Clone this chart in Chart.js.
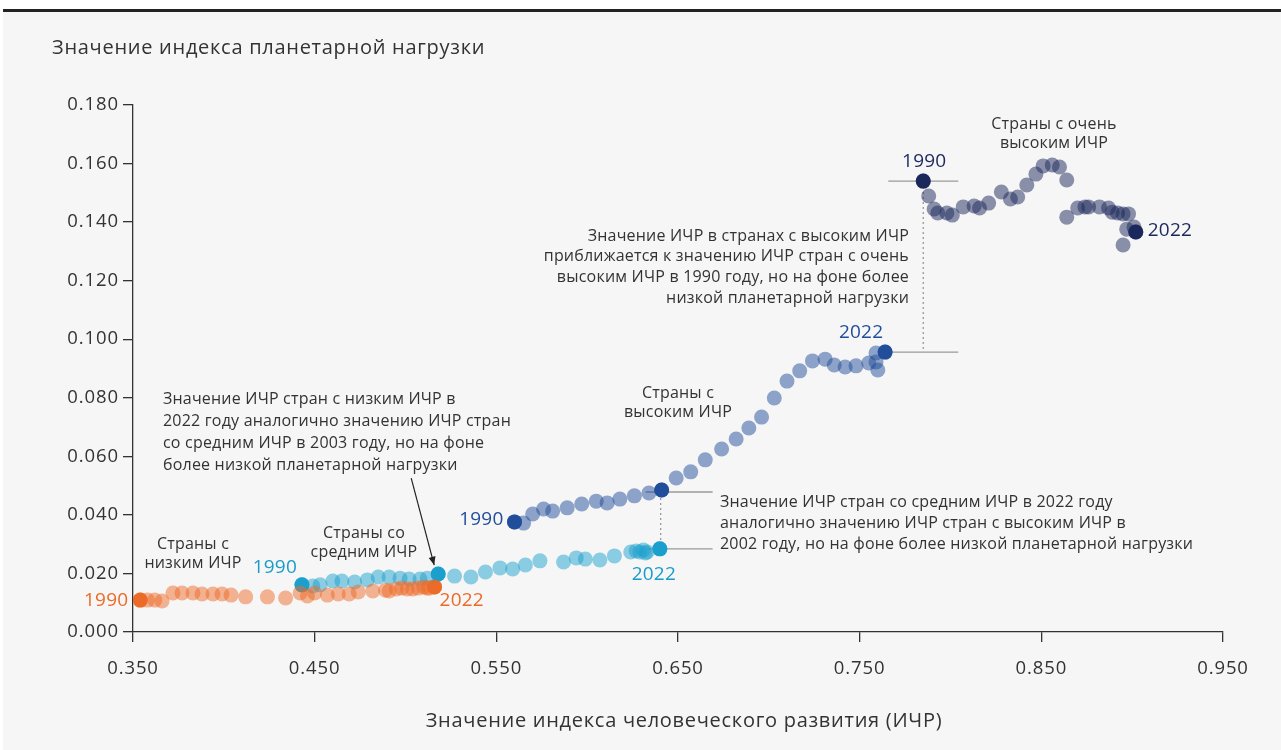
<!DOCTYPE html>
<html lang="ru">
<head>
<meta charset="utf-8">
<script src="https://cdn.jsdelivr.net/npm/chart.js@4.4.1/dist/chart.umd.min.js"></script>
<style>
  html, body { margin: 0; padding: 0; background: #ffffff; }
  #panel { position: absolute; left: 3px; top: 9px; width: 1278px; height: 741px; background: #f6f6f6; border-top: 3px solid #222; box-sizing: border-box; }
  #wrap { position: absolute; left: 0; top: 0; width: 1281px; height: 750px; }
</style>
</head>
<body>
<div id="panel"></div>
<div id="wrap"><canvas id="c" width="1281" height="750"></canvas></div>
<script>
// ---------- DATA ----------
const years = ["1990","1991","1992","1993","1994","1995","1996","1997","1998","1999","2000","2001","2002","2003","2004","2005","2006","2007","2008","2009","2010","2011","2012","2013","2014","2015","2016","2017","2018","2019","2020","2021","2022"];

const lowHdi = [0.354,0.358,0.362,0.366,0.372,0.377,0.383,0.388,0.394,0.399,0.404,0.412,0.424,0.434,0.442,0.446,0.450,0.457,0.463,0.469,0.474,0.482,0.489,0.491,0.495,0.498,0.501,0.504,0.507,0.510,0.512,0.513,0.516];
const lowPb  = [0.0109,0.0109,0.0109,0.0106,0.0133,0.0133,0.0133,0.0130,0.0130,0.0130,0.0126,0.0120,0.0120,0.0116,0.0133,0.0123,0.0133,0.0126,0.0130,0.0130,0.0137,0.0140,0.0143,0.0140,0.0147,0.0150,0.0147,0.0147,0.0150,0.0154,0.0150,0.0150,0.0154];

const medHdi = [0.443,0.449,0.453,0.460,0.465,0.472,0.479,0.485,0.491,0.497,0.502,0.508,0.512,0.518,0.527,0.536,0.544,0.552,0.559,0.566,0.574,0.587,0.594,0.599,0.607,0.615,0.624,0.627,0.629,0.631,0.632,0.633,0.640];
const medPb  = [0.0161,0.0157,0.0161,0.0174,0.0174,0.0171,0.0178,0.0188,0.0188,0.0184,0.0181,0.0181,0.0184,0.0198,0.0191,0.0188,0.0205,0.0219,0.0215,0.0229,0.0243,0.0239,0.0253,0.0249,0.0246,0.0260,0.0273,0.0277,0.0273,0.0280,0.0270,0.0273,0.0284];

const highHdi = [0.560,0.565,0.570,0.576,0.581,0.589,0.597,0.605,0.611,0.618,0.626,0.634,0.641,0.649,0.657,0.665,0.674,0.682,0.689,0.696,0.703,0.710,0.717,0.724,0.731,0.736,0.742,0.748,0.755,0.759,0.760,0.759,0.764];
const highPb  = [0.0376,0.0372,0.0403,0.0420,0.0413,0.0424,0.0437,0.0447,0.0441,0.0454,0.0465,0.0475,0.0485,0.0526,0.0547,0.0588,0.0625,0.0659,0.0697,0.0734,0.0799,0.0857,0.0892,0.0926,0.0932,0.0912,0.0905,0.0909,0.0919,0.0953,0.0895,0.0922,0.0956];

const vhighHdi = [0.785,0.788,0.791,0.793,0.798,0.801,0.807,0.813,0.816,0.821,0.828,0.833,0.837,0.842,0.847,0.851,0.856,0.860,0.864,0.864,0.870,0.874,0.876,0.882,0.887,0.889,0.892,0.895,0.898,0.897,0.901,0.895,0.902];
const vhighPb  = [0.1540,0.1489,0.1445,0.1431,0.1431,0.1424,0.1452,0.1455,0.1448,0.1465,0.1503,0.1479,0.1486,0.1527,0.1564,0.1592,0.1595,0.1588,0.1544,0.1417,0.1448,0.1452,0.1452,0.1452,0.1448,0.1434,0.1431,0.1428,0.1428,0.1376,0.1383,0.1322,0.1366];

const xTickValues = [0.35,0.45,0.55,0.65,0.75,0.85,0.95];
const yTickValues = [0,0.02,0.04,0.06,0.08,0.10,0.12,0.14,0.16,0.18];

const yAxisTitle = "Значение индекса планетарной нагрузки";
const xAxisTitle = "Значение индекса человеческого развития (ИЧР)";

const groupLabels = [
  ["Страны с","низким ИЧР"],
  ["Страны со","средним ИЧР"],
  ["Страны с","высоким ИЧР"],
  ["Страны с очень","высоким ИЧР"]
];
const noteLow = ["Значение ИЧР стран с низким ИЧР в","2022 году аналогично значению ИЧР стран","со средним ИЧР в 2003 году, но на фоне","более низкой планетарной нагрузки"];
const noteHigh = ["Значение ИЧР в странах с высоким ИЧР","приближается к значению ИЧР стран с очень","высоким ИЧР в 1990 году, но на фоне более","низкой планетарной нагрузки"];
const noteMed = ["Значение ИЧР стран со средним ИЧР в 2022 году","аналогично значению ИЧР стран с высоким ИЧР в","2002 году, но на фоне более низкой планетарной нагрузки"];

// ---------- STYLE ----------
const FONT = "'Open Sans', 'Noto Sans', sans-serif";
const TEXT = "#333333";
const C = {
  low:   {dark: "rgb(236,106,40)",  light: "rgba(238,108,42,0.5)"},
  med:   {dark: "rgb(24,156,202)",  light: "rgba(30,162,206,0.5)"},
  high:  {dark: "rgb(33,78,154)",   light: "rgba(33,78,154,0.5)"},
  vhigh: {dark: "rgb(27,40,92)",    light: "rgba(27,40,92,0.5)"}
};
const R = 7.5;

function pts(xs, ys) { return xs.map((x, i) => ({x: x, y: ys[i]})); }
function pick(xs, ys, idx) { return idx.map(i => ({x: xs[i], y: ys[i]})); }
const last = years.length - 1;
const i2002 = years.indexOf("2002"), i2003 = years.indexOf("2003");

const datasets = [
  {label: "low", data: pts(lowHdi, lowPb), backgroundColor: C.low.light},
  {label: "med", data: pts(medHdi, medPb), backgroundColor: C.med.light},
  {label: "high", data: pts(highHdi, highPb), backgroundColor: C.high.light},
  {label: "vhigh", data: pts(vhighHdi, vhighPb), backgroundColor: C.vhigh.light},
  {label: "lowKey", data: pick(lowHdi, lowPb, [0, last]), backgroundColor: C.low.dark},
  {label: "medKey", data: pick(medHdi, medPb, [0, i2003, last]), backgroundColor: C.med.dark},
  {label: "highKey", data: pick(highHdi, highPb, [0, i2002, last]), backgroundColor: C.high.dark},
  {label: "vhighKey", data: pick(vhighHdi, vhighPb, [0, last]), backgroundColor: C.vhigh.dark}
].map(d => Object.assign(d, {pointRadius: R, pointHoverRadius: R, borderWidth: 0, pointBorderWidth: 0}));

function P(chart, x, y) {
  return {x: chart.scales.x.getPixelForValue(x), y: chart.scales.y.getPixelForValue(y)};
}

const decor = {
  id: "decor",
  beforeDraw(chart) {
    chart.ctx.letterSpacing = "0.9px";
  },
  beforeDatasetsDraw(chart) {
    const ctx = chart.ctx;
    const vh90 = P(chart, vhighHdi[0], vhighPb[0]);
    const h22 = P(chart, highHdi[last], highPb[last]);
    const h02 = P(chart, highHdi[i2002], highPb[i2002]);
    const m22 = P(chart, medHdi[last], medPb[last]);
    ctx.save();
    ctx.strokeStyle = "#9a9a9a";
    ctx.lineWidth = 1.3;
    ctx.beginPath();
    ctx.moveTo(vh90.x - 35, vh90.y); ctx.lineTo(vh90.x + 35, vh90.y);
    ctx.moveTo(h22.x, h22.y); ctx.lineTo(vh90.x + 35, h22.y);
    ctx.moveTo(h02.x - 16, h02.y + 2); ctx.lineTo(h02.x + 51, h02.y + 2);
    ctx.moveTo(m22.x - 13, m22.y); ctx.lineTo(h02.x + 51, m22.y);
    ctx.stroke();
    ctx.setLineDash([2, 3]);
    ctx.beginPath();
    ctx.moveTo(vh90.x, vh90.y + 6); ctx.lineTo(vh90.x, h22.y);
    ctx.moveTo(h02.x - 1, h02.y + 8); ctx.lineTo(h02.x - 1, m22.y - 4);
    ctx.stroke();
    ctx.restore();
  },
  afterDatasetsDraw(chart) {
    const ctx = chart.ctx;
    ctx.save();
    ctx.textBaseline = "middle";
    // axis titles
    ctx.fillStyle = TEXT;
    ctx.font = "20px " + FONT;
    ctx.letterSpacing = "0.72px";
    ctx.textAlign = "left";
    ctx.fillText(yAxisTitle, 52, 48);
    ctx.textAlign = "center";
    ctx.fillText(xAxisTitle, 684, 721);

    // year labels
    ctx.font = "19px " + FONT;
    ctx.letterSpacing = "0.2px";
    function yl(txt, p, dx, dy, align, color) {
      ctx.fillStyle = color; ctx.textAlign = align; ctx.fillText(txt, p.x + dx, p.y + dy);
    }
    const l90 = P(chart, lowHdi[0], lowPb[0]), l22 = P(chart, lowHdi[last], lowPb[last]);
    const m90 = P(chart, medHdi[0], medPb[0]), m22 = P(chart, medHdi[last], medPb[last]);
    const m03 = P(chart, medHdi[i2003], medPb[i2003]);
    const h90 = P(chart, highHdi[0], highPb[0]), h22 = P(chart, highHdi[last], highPb[last]);
    const v90 = P(chart, vhighHdi[0], vhighPb[0]), v22 = P(chart, vhighHdi[last], vhighPb[last]);
    yl(years[0], l90, -12, 1, "right", C.low.dark);
    yl(years[last], l22, 5, 14, "left", C.low.dark);
    yl(years[0], m90, -5, -17, "right", C.med.dark);
    yl(years[last], m22, -6, 26, "center", C.med.dark);
    yl(years[0], h90, -11, -2, "right", C.high.dark);
    yl(years[last], h22, -24, -20, "center", C.high.dark);
    yl(years[0], v90, 1, -20, "center", C.vhigh.dark);
    yl(years[last], v22, 12, -1, "left", C.vhigh.dark);

    // group labels
    ctx.fillStyle = TEXT;
    ctx.font = "16px " + FONT;
    ctx.letterSpacing = "0.2px";
    ctx.textAlign = "center";
    const gpos = [[193, 544], [364, 533], [678, 393], [1054, 124]];
    groupLabels.forEach((lines, i) => {
      lines.forEach((t, j) => ctx.fillText(t, gpos[i][0], gpos[i][1] + j * 19.5));
    });

    // notes
    ctx.textAlign = "left";
    noteLow.forEach((t, j) => ctx.fillText(t, 163, 399 + j * 22));
    ctx.textAlign = "right";
    noteHigh.forEach((t, j) => ctx.fillText(t, 909, 236 + j * 20.7));
    ctx.textAlign = "left";
    noteMed.forEach((t, j) => ctx.fillText(t, 720, 502 + j * 21));

    // arrow to medium 2003
    ctx.letterSpacing = "0px";
    const ex = m03.x - 4, ey = m03.y - 9;
    const sx = m03.x - 27, sy = m03.y - 96;
    ctx.strokeStyle = "#222"; ctx.fillStyle = "#222"; ctx.lineWidth = 1.2;
    ctx.beginPath(); ctx.moveTo(sx, sy); ctx.lineTo(ex, ey); ctx.stroke();
    const ang = Math.atan2(ey - sy, ex - sx);
    ctx.beginPath();
    ctx.moveTo(ex, ey);
    ctx.lineTo(ex - 9 * Math.cos(ang - 0.4), ey - 9 * Math.sin(ang - 0.4));
    ctx.lineTo(ex - 9 * Math.cos(ang + 0.4), ey - 9 * Math.sin(ang + 0.4));
    ctx.closePath(); ctx.fill();
    ctx.restore();
  }
};

new Chart(document.getElementById("c"), {
  type: "scatter",
  data: {datasets: datasets},
  options: {
    responsive: false,
    animation: false,
    events: [],
    layout: {padding: {left: 0, right: 58, top: 105, bottom: 0}},
    plugins: {legend: {display: false}, tooltip: {enabled: false}, title: {display: false}},
    scales: {
      x: {
        type: "linear", min: 0.35, max: 0.95,
        afterBuildTicks: s => { s.ticks = xTickValues.map(v => ({value: v})); },
        afterFit: s => { s.height = 118; },
        ticks: {color: TEXT, font: {family: FONT, size: 18.5}, padding: 16, callback: v => v.toFixed(3), maxRotation: 0},
        grid: {drawOnChartArea: false, drawTicks: true, tickLength: 10, color: "#333", lineWidth: 1.3},
        border: {display: true, color: "#333", width: 1.3}
      },
      y: {
        type: "linear", min: 0, max: 0.18,
        afterBuildTicks: s => { s.ticks = yTickValues.map(v => ({value: v})); },
        afterFit: s => { s.width = 133; },
        ticks: {color: TEXT, font: {family: FONT, size: 18.5}, padding: 4, callback: v => v.toFixed(3)},
        grid: {drawOnChartArea: false, drawTicks: true, tickLength: 10, color: "#333", lineWidth: 1.3},
        border: {display: true, color: "#333", width: 1.3}
      }
    }
  },
  plugins: [decor]
});
</script>
</body>
</html>
